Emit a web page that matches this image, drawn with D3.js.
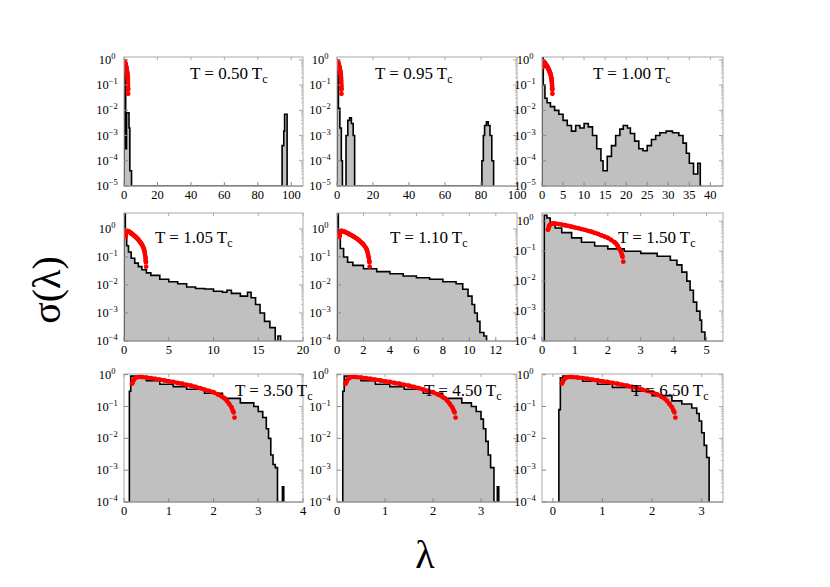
<!DOCTYPE html>
<html><head><meta charset="utf-8">
<script src="https://cdn.jsdelivr.net/npm/d3@7"></script>
<style>body{margin:0;background:#fff}text{font-family:"Liberation Serif","DejaVu Serif",serif}</style>
</head><body><svg id="c" width="830" height="587"></svg>
<script>
// Panel titles (temperature, in units of Tc)
const temps = ["0.50", "0.95", "1.00", "1.05", "1.10", "1.50", "3.50", "4.50", "6.50"];
// x domain per panel
const xDomains = [[0, 107], [0, 100], [0, 43], [0, 20], [0, 13.6], [0, 5.5], [0, 4], [0, 3.75], [-0.22, 3.43]];
const xTicks = [[0, 20, 40, 60, 80, 100], [0, 20, 40, 60, 80, 100], [0, 5, 10, 15, 20, 25, 30, 35, 40], [0, 5, 10, 15, 20],
  [0, 2, 4, 6, 8, 10, 12], [0, 1, 2, 3, 4, 5], [0, 1, 2, 3, 4], [0, 1, 2, 3], [0, 1, 2, 3]];
// y domain per panel (log)
const yDomains = [[1e-5, 1.3], [1e-5, 1.3], [1e-5, 1.3], [1e-4, 3.7], [1e-4, 3.7], [1e-4, 1.9], [1e-4, 1.05], [1e-4, 1.05], [1e-4, 1.05]];
// histograms: [bin start, sigma]; last entry closes the histogram (0 = empty)
const hist050 = [[0, 1.0], [1, 3e-4], [1.5, 8e-3], [3, 2e-3], [3.5, 4e-5], [4.5, 0], [94.5, 4e-4], [95.5, 1.5e-3], [96, 7e-3], [97.5, 0]];
const hist095 = [[0, 1.0], [0.8, 1.2e-2], [1.6, 2e-3], [2.4, 1e-4], [3, 0], [5, 1e-3], [6, 4e-3], [7, 5e-3], [8, 3e-3], [9, 1e-3], [9.8, 0],
  [80.5, 1e-4], [81.3, 1e-3], [82, 2.5e-3], [83, 3.5e-3], [84, 2.5e-3], [85, 1e-3], [86, 1e-4], [87, 0]];
const hist100 = [[0, 2], [0.3, 0.1], [0.7, 3e-2], [1.2, 2e-2], [2, 1.4e-2], [3, 1e-2], [4, 7e-3], [5, 4e-3], [6, 2.5e-3], [7, 1.5e-3], [8, 2.5e-3],
  [9, 2e-3], [10, 3e-3], [11, 2.2e-3], [12, 1e-3], [13, 3e-4], [14, 1e-4], [14.5, 4e-5], [15.5, 1.5e-4], [16.5, 4e-4], [17.5, 1e-3], [18.5, 1.8e-3],
  [19.3, 2.5e-3], [20.3, 2e-3], [21, 1.2e-3], [22, 6e-4], [23, 3e-4], [24, 2.5e-4], [25, 4e-4], [26, 7e-4], [27, 1e-3], [28, 1.3e-3], [29.5, 1.5e-3],
  [31, 1.3e-3], [32.5, 1e-3], [33.5, 5e-4], [34.3, 2e-4], [35, 8e-5], [36, 3e-5], [37, 8e-5], [37.6, 1e-5], [38, 0]];
const hist105 = [[0, 3.7], [0.15, 0.5], [0.3, 0.25], [0.5, 0.15], [0.8, 0.09], [1.2, 0.06], [1.6, 0.045], [2, 0.035], [2.5, 0.027], [3, 0.022],
  [4, 0.016], [5, 0.013], [6, 0.011], [7, 0.0085], [8, 0.0075], [9, 0.0072], [10, 0.006], [11, 0.0055], [11.5, 0.0065], [12, 0.005], [13, 0.004],
  [13.8, 0.0055], [14.2, 0.0035], [14.7, 0.002], [15.2, 1e-3], [15.7, 5e-4], [16.3, 3e-4], [16.9, 0], [17.2, 1.5e-4], [17.5, 0]];
const hist110 = [[0, 3.7], [0.1, 0.6], [0.25, 0.2], [0.5, 0.1], [0.8, 0.065], [1.2, 0.05], [2, 0.038], [3, 0.03], [4, 0.025], [5, 0.021],
  [6, 0.018], [7, 0.016], [8, 0.013], [9, 0.011], [9.5, 0.007], [9.9, 0.004], [10.2, 0.002], [10.4, 1e-3], [10.6, 5e-4], [10.8, 2e-4], [11.1, 1.5e-4], [11.3, 0]];
const hist150 = [[0.07, 1.6], [0.15, 1.3], [0.25, 0.9], [0.4, 0.6], [0.6, 0.42], [0.9, 0.28], [1.2, 0.2], [1.6, 0.15], [2, 0.12], [2.5, 0.1],
  [3, 0.085], [3.5, 0.068], [3.9, 0.05], [4.1, 0.035], [4.25, 0.02], [4.4, 0.01], [4.5, 5e-3], [4.6, 2e-3], [4.7, 1e-3], [4.8, 5e-4], [4.85, 2e-4], [4.95, 1e-4], [5.02, 0]];
const hist350 = [[0.12, 0.3], [0.15, 0.9], [0.3, 0.8], [0.5, 0.65], [0.8, 0.5], [1.1, 0.42], [1.4, 0.35], [1.8, 0.26], [2.2, 0.18], [2.6, 0.13],
  [2.9, 0.1], [3.0, 0.07], [3.1, 0.045], [3.18, 0.02], [3.23, 0.01], [3.28, 3e-3], [3.33, 1.5e-3], [3.38, 1.2e-3], [3.43, 0], [3.54, 3e-4], [3.57, 0]];
const hist450 = [[0.12, 0.3], [0.15, 0.9], [0.3, 0.8], [0.5, 0.65], [0.8, 0.5], [1.1, 0.42], [1.4, 0.35], [1.8, 0.26], [2.2, 0.18], [2.6, 0.13],
  [2.8, 0.1], [2.9, 0.07], [3.0, 0.04], [3.05, 0.02], [3.1, 0.008], [3.15, 3e-3], [3.2, 1.2e-3], [3.27, 0], [3.34, 3e-4], [3.37, 0]];
const hist650 = [[0.12, 0.08], [0.15, 0.8], [0.2, 0.9], [0.35, 0.8], [0.6, 0.62], [0.9, 0.5], [1.2, 0.4], [1.6, 0.3], [2, 0.22], [2.4, 0.15],
  [2.6, 0.12], [2.8, 0.09], [2.9, 0.06], [2.95, 0.035], [3.0, 0.015], [3.05, 0.006], [3.1, 2.5e-3], [3.15, 0]];
const hists = [hist050, hist095, hist100, hist105, hist110, hist150, hist350, hist450, hist650];
// theoretical curve (red dots), same in every panel
const theory = [[0.18, 0.52], [0.2, 0.6], [0.22, 0.7], [0.25, 0.78], [0.3, 0.84], [0.35, 0.85], [0.4, 0.84], [0.5, 0.81], [0.6, 0.78], [0.7, 0.74],
  [0.8, 0.7], [0.9, 0.66], [1.0, 0.62], [1.1, 0.59], [1.2, 0.55], [1.3, 0.52], [1.4, 0.48], [1.5, 0.45], [1.6, 0.41], [1.7, 0.38], [1.8, 0.34],
  [1.9, 0.31], [2.0, 0.28], [2.1, 0.24], [2.2, 0.2], [2.25, 0.18], [2.3, 0.15], [2.35, 0.12], [2.4, 0.095], [2.43, 0.075], [2.45, 0.065], [2.47, 0.045]];

// layout
var Cols = [[124, 303], [337, 517], [542, 723]];
var Rows = [[57, 186], [213, 341], [374, 502]];
var TitlePos = [[66, 22], [38, 22], [51, 22], [31, 30], [53, 30], [76, 30], [111, 22], [87, 22], [89, 22]];
var Svg = d3.select("#c");

function Sup(Sel, Exp) {
  Sel.text("10").append("tspan").attr("dy", -5).attr("font-size", 8.5).text(Exp == 0 ? "0" : "\u2212" + (-Exp));
}

temps.forEach((T, I) => {
  var [L, R] = Cols[I % 3], [Top, Bot] = Rows[Math.floor(I / 3)];
  var X = d3.scaleLinear().domain(xDomains[I]).range([L, R]);
  var Y = d3.scaleLog().domain(yDomains[I]).range([Bot, Top]).clamp(true);
  var G = Svg.append("g");
  var Clip = "clip" + I;
  G.append("clipPath").attr("id", Clip).append("rect").attr("x", L).attr("y", Top).attr("width", R - L).attr("height", Bot - Top);
  var Body = G.append("g").attr("clip-path", `url(#${Clip})`);
  // histogram as step path
  var H = hists[I], Low = yDomains[I][0] / 10;
  var Pts = [];
  for (var K = 0; K < H.length; K++) {
    var V = H[K][1] > 0 ? H[K][1] : Low;
    var Prev = K > 0 && H[K - 1][1] > 0 ? H[K - 1][1] : Low;
    if (K == 0) Pts.push([H[K][0], Low]);
    Pts.push([H[K][0], Prev], [H[K][0], V]);
  }
  Pts = Pts.filter((P, J) => J > 0 || true);
  var Line = d3.line().x(P => X(P[0])).y(P => Y(P[1]));
  Body.append("path").attr("d", Line(Pts) + "Z").attr("fill", "#c0c0c0");
  Body.append("path").attr("d", Line(Pts)).attr("fill", "none").attr("stroke", "#000").attr("stroke-width", 1.6);
  // theory
  Body.append("path").attr("d", Line(theory.slice(0, -1))).attr("fill", "none").attr("stroke", "#f00").attr("stroke-width", 4);
  Body.selectAll(".d").data(theory).enter().append("circle")
    .attr("cx", P => X(P[0])).attr("cy", P => Y(P[1])).attr("r", 2.4).attr("fill", "#f00");
  // frame and ticks
  G.append("rect").attr("x", L).attr("y", Top).attr("width", R - L).attr("height", Bot - Top)
    .attr("fill", "none").attr("stroke", "#aaa").attr("stroke-width", 1);
  G.append("line").attr("x1", L).attr("x2", R).attr("y1", Bot).attr("y2", Bot).attr("stroke", "#888");
  xTicks[I].forEach(Tk => {
    var Px = X(Tk);
    G.append("line").attr("x1", Px).attr("x2", Px).attr("y1", Bot).attr("y2", Bot - 4).attr("stroke", "#888");
    G.append("line").attr("x1", Px).attr("x2", Px).attr("y1", Top).attr("y2", Top + 3).attr("stroke", "#aaa");
    G.append("text").attr("x", Px).attr("y", Bot + 13).attr("text-anchor", "middle").attr("font-size", 12.5).text(Tk);
  });
  var E0 = Math.round(Math.log10(yDomains[I][0]));
  for (var E = E0; E <= 0; E++) {
    var Py = Y(Math.pow(10, E));
    G.append("line").attr("x1", L).attr("x2", L + 4).attr("y1", Py).attr("y2", Py).attr("stroke", "#888");
    G.append("line").attr("x1", R).attr("x2", R - 4).attr("y1", Py).attr("y2", Py).attr("stroke", "#aaa");
    for (var M = 2; M < 10 && E < 0; M++) {
      var My = Y(M * Math.pow(10, E));
      G.append("line").attr("x1", R).attr("x2", R - 2).attr("y1", My).attr("y2", My).attr("stroke", "#bbb");
    }
    Sup(G.append("text").attr("x", L - 17).attr("y", Py + 4).attr("text-anchor", "middle").attr("font-size", 12.5), E);
  }
  var Tt = G.append("text").attr("x", L + TitlePos[I][0]).attr("y", Top + TitlePos[I][1]).attr("font-size", 17).text(`T = ${T} T`);
  Tt.append("tspan").attr("dy", 4).attr("font-size", 12).text("c");
});

Svg.append("text").attr("transform", "translate(60,290) rotate(-90)").attr("text-anchor", "middle").attr("font-size", 40).text("\u03c3(\u03bb)");
Svg.append("text").attr("x", 425).attr("y", 568).attr("text-anchor", "middle").attr("font-size", 40).text("\u03bb");
</script></body></html>
